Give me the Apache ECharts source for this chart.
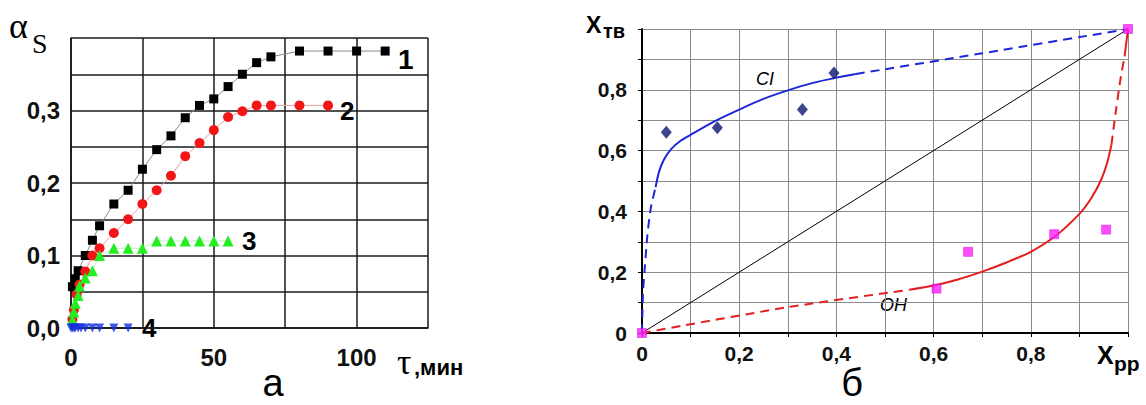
<!DOCTYPE html>
<html><head><meta charset="utf-8">
<script src="https://cdn.jsdelivr.net/npm/echarts@6/dist/echarts.min.js"></script>
<style>html,body{margin:0;padding:0;background:#fff}#c{width:1146px;height:405px}</style>
</head><body><div id="c"></div>
<script>
// ---- Chart а: αS vs τ (min) ----
const tau1 = [0.5,1.5,2.5,5,7.5,10,15,20,25,30,35,40,45,50,55,60,65,70,80,90,100,110];
const alpha1 = [0.057,0.068,0.079,0.1,0.121,0.141,0.171,0.19,0.219,0.246,0.265,0.29,0.307,0.316,0.333,0.35,0.366,0.374,0.382,0.382,0.382,0.382];
const tau2 = [0.5,1,2,3,5,7.5,10,15,20,25,30,35,40,45,50,55,60,65,70,80,90];
const alpha2 = [0.012,0.025,0.046,0.06,0.078,0.1,0.11,0.131,0.15,0.171,0.19,0.21,0.237,0.255,0.273,0.291,0.299,0.307,0.307,0.307,0.307];
const tau3 = [0.5,1,1.5,2.5,3,5,7.5,10,15,20,25,30,35,40,45,50,55];
const alpha3 = [0.011,0.022,0.034,0.045,0.058,0.069,0.079,0.1,0.11,0.11,0.11,0.12,0.12,0.12,0.12,0.12,0.12];
const tau4 = [0,0.5,1,1.5,2.5,3.5,5,7.5,10,15,20];
const alpha4 = [0,0,0,0,0,0,0,0,0,0,0];
const leftXTicks = [0,50,100];
const leftYTicks = [0,0.1,0.2,0.3];

// ---- Chart б: Xтв vs Xрр ----
const ciX = [0.05,0.155,0.33,0.395];
const ciY = [0.66,0.675,0.735,0.855];
const ohX = [0.606,0.671,0.848,0.955];
const ohY = [0.146,0.267,0.325,0.34];
const endX = [0,1];
const endY = [0,1];
const ciCurveDashLowX = [0,0.002,0.006,0.011,0.018,0.028];
const ciCurveDashLowY = [0,0.13,0.22,0.32,0.41,0.48];
const ciCurveSolidX = [0.028,0.035,0.045,0.06,0.08,0.1,0.15,0.2,0.25,0.3,0.35,0.4,0.44];
const ciCurveSolidY = [0.48,0.53,0.57,0.605,0.633,0.652,0.697,0.735,0.77,0.798,0.822,0.84,0.852];
const ciCurveDashHighX = [0.44,0.7,1];
const ciCurveDashHighY = [0.852,0.92,1];
const ohCurveDashLowX = [0,0.3,0.55];
const ohCurveDashLowY = [0,0.085,0.142];
const ohCurveSolidX = [0.55,0.6,0.65,0.7,0.75,0.8,0.85,0.9,0.925,0.945,0.958,0.966];
const ohCurveSolidY = [0.142,0.156,0.176,0.202,0.232,0.267,0.318,0.392,0.445,0.505,0.565,0.62];
const ohCurveDashHighX = [0.966,0.975,0.985,0.993];
const ohCurveDashHighY = [0.62,0.73,0.84,0.91];
const ohCurveTopX = [0.993,1];
const ohCurveTopY = [0.91,1];
const diagX = [0,1];
const diagY = [0,1];
const rightTicks = [0,0.2,0.4,0.6,0.8];

const zip = (xs, ys) => xs.map((x, i) => [x, ys[i]]);
const comma = v => v === 0 ? '0' : v.toFixed(1).replace('.', ',');
const near = (v, arr) => arr.some(a => Math.abs(a - v) < 1e-6);

const chart = echarts.init(document.getElementById('c'), null, {renderer: 'svg'});
const lblFont = {fontFamily: 'Liberation Sans, Arial, sans-serif', fontWeight: 'bold', color: '#111'};
const SANS = '"Liberation Sans", Arial, sans-serif';
const SERIF = '"Liberation Serif", serif';

const curve = (xs, ys, color, dashed, w, sm) => ({
  type: 'line', xAxisIndex: 1, yAxisIndex: 1, data: zip(xs, ys), showSymbol: false, smooth: sm === undefined ? 0.25 : sm,
  lineStyle: {color: color, width: w || 2, type: dashed ? [9, 6] : 'solid'}, z: 3, silent: true
});
const txt = (x, y, text, font, extra) => ({type: 'text', x: x, y: y, silent: true,
  style: Object.assign({text: text, font: font, fill: '#000', verticalAlign: 'middle'}, extra || {})});

const option = {
  animation: false,
  backgroundColor: '#fff',
  grid: [
    {left: 71, top: 38, width: 357, height: 290},
    {left: 642, top: 29, width: 486, height: 304}
  ],
  xAxis: [
    {type: 'value', gridIndex: 0, min: 0, max: 125, interval: 25, offset: 6,
     axisLine: {show: true, lineStyle: {color: '#111', width: 1.5}},
     axisTick: {show: false},
     splitLine: {show: true, lineStyle: {color: '#1a1a1a', width: 1.5}},
     axisLabel: Object.assign({fontSize: 24, margin: 11, formatter: v => near(v, leftXTicks) ? String(v) : ''}, lblFont)},
    {type: 'value', gridIndex: 1, min: 0, max: 1, interval: 0.1,
     axisLine: {show: true, lineStyle: {color: '#000', width: 2}},
     axisTick: {show: true, length: 4, lineStyle: {color: '#000'}},
     splitLine: {show: true, lineStyle: {color: '#8a8a8a', width: 1}},
     axisLabel: Object.assign({fontSize: 21, margin: 10, formatter: v => near(v, rightTicks) ? comma(v) : ''}, lblFont)}
  ],
  yAxis: [
    {type: 'value', gridIndex: 0, min: 0, max: 0.4, interval: 0.05, offset: 3,
     axisLine: {show: true, lineStyle: {color: '#111', width: 1.5}},
     axisTick: {show: false},
     splitLine: {show: true, lineStyle: {color: '#1a1a1a', width: 1.5}},
     axisLabel: Object.assign({fontSize: 24, margin: 8, formatter: v => near(v, leftYTicks) ? v.toFixed(1).replace('.', ',') : ''}, lblFont)},
    {type: 'value', gridIndex: 1, min: 0, max: 1, interval: 0.1,
     axisLine: {show: true, lineStyle: {color: '#000', width: 2}},
     axisTick: {show: true, length: 4, lineStyle: {color: '#000'}},
     splitLine: {show: true, lineStyle: {color: '#8a8a8a', width: 1}},
     axisLabel: Object.assign({fontSize: 21, margin: 15, formatter: v => near(v, rightTicks) ? comma(v) : ''}, lblFont)}
  ],
  series: [
    {type: 'line', xAxisIndex: 0, yAxisIndex: 0, data: zip(tau1, alpha1), symbol: 'rect', symbolSize: 9,
     itemStyle: {color: '#000'}, lineStyle: {color: '#8a8a8a', width: 1}, clip: false, z: 4},
    {type: 'line', xAxisIndex: 0, yAxisIndex: 0, data: zip(tau2, alpha2), symbol: 'circle', symbolSize: 10,
     itemStyle: {color: '#f21616'}, lineStyle: {color: '#e8a0a0', width: 1}, clip: false, z: 4},
    {type: 'line', xAxisIndex: 0, yAxisIndex: 0, data: zip(tau3, alpha3), symbol: 'triangle', symbolSize: 11,
     itemStyle: {color: '#22ee22'}, lineStyle: {color: '#aaf0aa', width: 0.8}, clip: false, z: 5},
    {type: 'scatter', xAxisIndex: 0, yAxisIndex: 0, data: zip(tau4, alpha4), symbol: 'triangle', symbolRotate: 180, symbolSize: 9,
     itemStyle: {color: '#1430e0'}, clip: false, z: 5},

    Object.assign(curve(diagX, diagY, '#000', false, 1, false), {z: 2}),
    curve(ciCurveDashLowX, ciCurveDashLowY, '#1c28d8', true),
    curve(ciCurveSolidX, ciCurveSolidY, '#1c28d8', false),
    curve(ciCurveDashHighX, ciCurveDashHighY, '#1c28d8', true, 2, 0.2),
    curve(ohCurveDashLowX, ohCurveDashLowY, '#e41e1e', true, 2, 0.2),
    curve(ohCurveSolidX, ohCurveSolidY, '#e41e1e', false),
    curve(ohCurveDashHighX, ohCurveDashHighY, '#e41e1e', true),
    curve(ohCurveTopX, ohCurveTopY, '#e41e1e', false, 2, false),
    {type: 'scatter', xAxisIndex: 1, yAxisIndex: 1, data: zip(ciX, ciY), symbol: 'diamond', symbolSize: [11, 13],
     itemStyle: {color: '#0c1670'}, clip: false, z: 6},
    {type: 'scatter', xAxisIndex: 1, yAxisIndex: 1, data: zip(ohX, ohY), symbol: 'rect', symbolSize: 9,
     itemStyle: {color: '#ff1fff', borderColor: '#d000d0', borderWidth: 0.6}, clip: false, z: 6},
    {type: 'scatter', xAxisIndex: 1, yAxisIndex: 1, data: zip(endX, endY), symbol: 'rect', symbolSize: 9,
     itemStyle: {color: '#ff1fff', borderColor: '#d000d0', borderWidth: 0.6}, clip: false, z: 6}
  ],
  graphic: [
    txt(9, 26, 'α', '36px ' + SERIF),
    txt(32, 43, 'S', '28px ' + SERIF),
    txt(397, 362, 'τ', '36px ' + SERIF),
    txt(414, 367, ',мин', 'bold 22px ' + SANS),
    txt(273, 383, 'а', '38px ' + SANS, {align: 'center'}),
    txt(398, 59, '1', 'bold 28px ' + SANS),
    txt(340, 111, '2', 'bold 26px ' + SANS),
    txt(242, 241, '3', 'bold 26px ' + SANS),
    txt(142, 328, '4', 'bold 26px ' + SANS),

    txt(586, 25, 'X', 'bold 23px ' + SANS),
    txt(603, 31, 'тв', 'bold 20px ' + SANS),
    txt(1097, 355, 'X', 'bold 25px ' + SANS),
    txt(1114, 363, 'рр', 'bold 21px ' + SANS),
    txt(852, 383, 'б', '38px ' + SANS, {align: 'center'}),
    txt(756, 79, 'CI', 'italic 18px ' + SANS),
    txt(880, 305, 'OH', 'italic 18px ' + SANS)
  ]
};
chart.setOption(option);
</script>
</body></html>
